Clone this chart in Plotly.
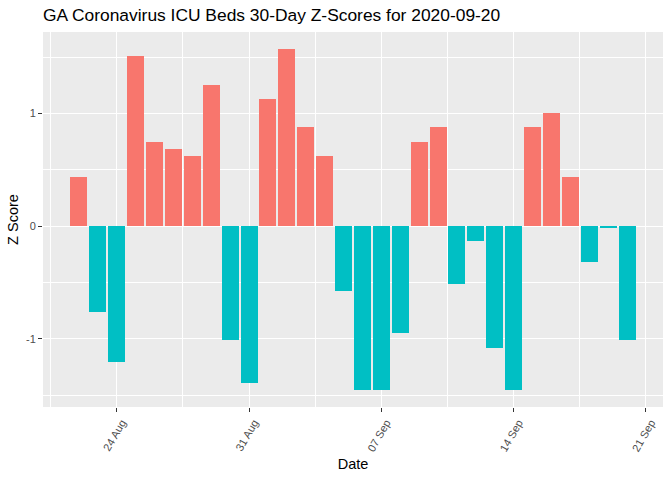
import plotly.graph_objects as go
import pandas as pd

dates = pd.date_range("2020-08-22", "2020-09-20", freq="D").strftime("%Y-%m-%d").tolist()
z_scores = [0.435, -0.763, -1.207, 1.508, 0.745, 0.683, 0.621, 1.251, -1.012, -1.393,
            1.127, 1.571, 0.878, 0.621, -0.577, -1.455, -1.455, -0.949, 0.745, 0.878,
            -0.515, -0.133, -1.083, -1.455, 0.878, 1.003, 0.435, -0.319, -0.01, -1.012]
pos_color = "#F8766D"
neg_color = "#00BFC4"
colors = [pos_color if v > 0 else neg_color for v in z_scores]

DAY = 86400000
fig = go.Figure(go.Bar(x=dates, y=z_scores, marker=dict(color=colors, line=dict(width=0)),
                       width=0.9 * DAY, showlegend=False))

font = "Liberation Sans, Arial, sans-serif"
fig.update_layout(
    width=672, height=480,
    margin=dict(l=43, r=9, t=32, b=73),
    paper_bgcolor="white", plot_bgcolor="#EBEBEB",
    font=dict(family=font, color="black"),
    title=dict(text="GA Coronavirus ICU Beds 30-Day Z-Scores for 2020-09-20",
               x=43 / 672, xanchor="left", y=1 - 15 / 480, yanchor="middle",
               font=dict(size=17.4, color="black")),
    bargap=0,
)
fig.update_xaxes(
    type="date", automargin=False,
    range=["2020-08-20 02:24", "2020-09-21 21:36"],
    tick0="2020-08-24", dtick=7 * DAY, tickformat="%d %b",
    tickangle=-60, ticklabelshift=5,
    tickfont=dict(size=11, color="#4D4D4D"),
    ticks="outside", ticklen=4, tickcolor="#333333", tickwidth=1,
    showgrid=True, gridcolor="white", gridwidth=1.4,
    minor=dict(tick0="2020-08-20 12:00", dtick=3.5 * DAY, showgrid=True,
               gridcolor="white", gridwidth=0.7),
    zeroline=False, showline=False,
    title=dict(text="Date", font=dict(size=14.5, color="black"), standoff=6),
)
fig.update_yaxes(
    automargin=False,
    range=[-1.606, 1.722],
    tickvals=[-1, 0, 1], ticktext=["-1", "0", "1"],
    tickfont=dict(size=11, color="#4D4D4D"),
    ticks="outside", ticklen=4, tickcolor="#333333", tickwidth=1,
    showgrid=True, gridcolor="white", gridwidth=1.4,
    minor=dict(tickvals=[-1.5, -0.5, 0.5, 1.5], showgrid=True,
               gridcolor="white", gridwidth=0.7),
    zeroline=False, showline=False,
    title=dict(text="Z Score", font=dict(size=14.5, color="black"), standoff=3),
)

fig.write_html("out.html", config={"displayModeBar": False},
               post_script="document.body.style.margin='0';")
